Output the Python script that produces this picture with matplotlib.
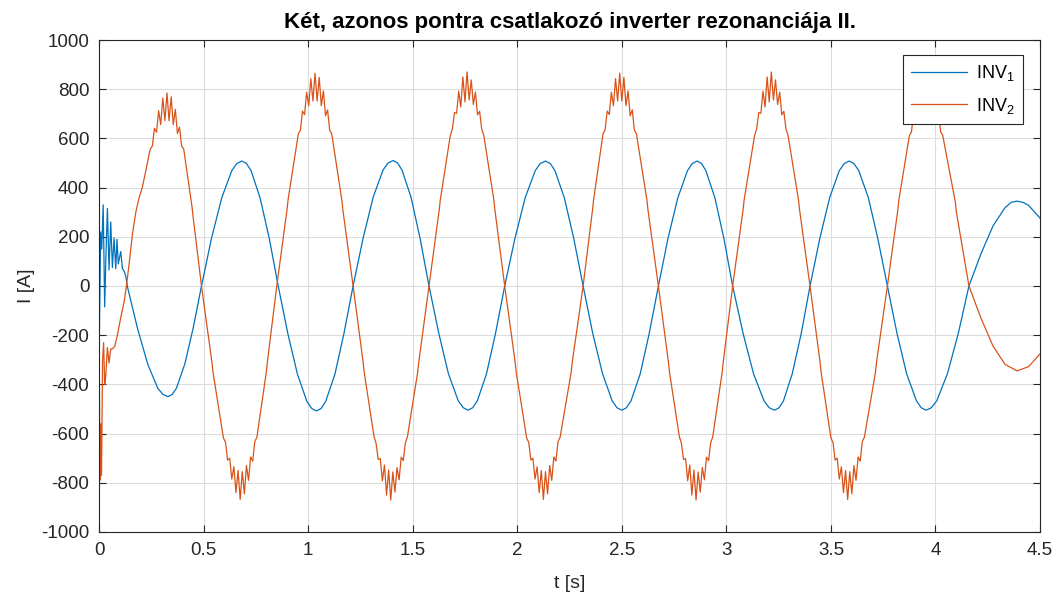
import numpy as np
import matplotlib
matplotlib.use("Agg")
import matplotlib.pyplot as plt

# --- INV1 (blue), time [s] and current [A] ---
t_inv1 = [0.000, 0.008, 0.013, 0.020, 0.027, 0.033, 0.040, 0.048, 0.056, 0.064,
          0.072, 0.080, 0.086, 0.092, 0.104, 0.112, 0.120, 0.128, 0.135,
          0.184, 0.233, 0.281, 0.306, 0.330, 0.350, 0.370, 0.410, 0.450, 0.490,
          0.538, 0.587, 0.635, 0.659, 0.683, 0.705, 0.727, 0.770, 0.814, 0.857,
          0.903, 0.949, 0.994, 1.017, 1.040, 1.062, 1.084, 1.128, 1.171, 1.215,
          1.263, 1.311, 1.358, 1.382, 1.406, 1.428, 1.449, 1.492, 1.535, 1.578,
          1.625, 1.671, 1.718, 1.742, 1.765, 1.787, 1.809, 1.853, 1.896, 1.940,
          1.989, 2.038, 2.086, 2.110, 2.135, 2.158, 2.180, 2.225, 2.270, 2.315,
          2.361, 2.408, 2.454, 2.477, 2.500, 2.522, 2.544, 2.588, 2.631, 2.675,
          2.721, 2.768, 2.814, 2.837, 2.860, 2.881, 2.902, 2.945, 2.988, 3.030,
          3.080, 3.130, 3.180, 3.205, 3.230, 3.252, 3.273, 3.315, 3.358, 3.400,
          3.447, 3.494, 3.540, 3.564, 3.587, 3.610, 3.633, 3.679, 3.724, 3.770,
          3.816, 3.862, 3.909, 3.932, 3.955, 3.980, 4.006, 4.057, 4.109, 4.160,
          4.218, 4.275, 4.333, 4.362, 4.390, 4.418, 4.445, 4.500]
i_inv1 = [-300, 220, 150, 330, -85, 120, 315, 65, 260, 75,
          195, 70, 190, 90, 140, 70, 60, 40, 0,
          -172, -318, -416, -441, -450, -441, -416, -318, -172, 0,
          194, 359, 469, 498, 508, 498, 469, 359, 194, 0,
          -194, -359, -469, -498, -508, -498, -469, -359, -194, 0,
          195, 361, 471, 500, 510, 500, 471, 361, 195, 0,
          -193, -357, -467, -495, -505, -495, -467, -357, -193, 0,
          194, 359, 469, 498, 508, 498, 469, 359, 194, 0,
          -193, -357, -467, -495, -505, -495, -467, -357, -193, 0,
          194, 359, 469, 498, 508, 498, 469, 359, 194, 0,
          -193, -357, -467, -495, -505, -495, -467, -357, -193, 0,
          194, 359, 469, 498, 508, 498, 469, 359, 194, 0,
          -193, -357, -467, -495, -505, -495, -467, -357, -193, 0,
          132, 244, 319, 340, 345, 340, 328, 276]

# --- INV2 (orange), with the ripple around the extremes ---
t_inv2 = [0.000, 0.004, 0.008, 0.012, 0.017, 0.022, 0.027, 0.032, 0.040, 0.048,
          0.056, 0.064, 0.075, 0.088, 0.104, 0.120, 0.131, 0.144, 0.160, 0.176,
          0.192, 0.207,
          0.245, 0.255, 0.265, 0.275, 0.285, 0.295, 0.305, 0.315, 0.325,
          0.335, 0.345, 0.355, 0.365, 0.375, 0.385, 0.395, 0.405,
          0.445, 0.450, 0.490, 0.540, 0.545,
          0.595, 0.605, 0.615, 0.625, 0.635, 0.645, 0.655, 0.665, 0.675,
          0.685, 0.695, 0.705, 0.715, 0.725, 0.735, 0.745, 0.755,
          0.800, 0.805, 0.850, 0.899, 0.904,
          0.953, 0.963, 0.973, 0.983, 0.993, 1.003, 1.013, 1.023, 1.033,
          1.043, 1.053, 1.063, 1.073, 1.083, 1.093, 1.103, 1.113,
          1.161, 1.166, 1.215, 1.263, 1.268,
          1.315, 1.325, 1.335, 1.345, 1.355, 1.365, 1.375, 1.385, 1.395,
          1.405, 1.415, 1.425, 1.435, 1.445, 1.455, 1.465, 1.475,
          1.524, 1.529, 1.578, 1.627, 1.632,
          1.680, 1.690, 1.700, 1.710, 1.720, 1.730, 1.740, 1.750, 1.760,
          1.770, 1.780, 1.790, 1.800, 1.810, 1.820, 1.830, 1.840,
          1.888, 1.893, 1.940, 1.990, 1.995,
          2.045, 2.055, 2.065, 2.075, 2.085, 2.095, 2.105, 2.115, 2.125,
          2.135, 2.145, 2.155, 2.165, 2.175, 2.185, 2.195, 2.205,
          2.258, 2.263, 2.315, 2.360, 2.365,
          2.410, 2.420, 2.430, 2.440, 2.450, 2.460, 2.470, 2.480, 2.490,
          2.500, 2.510, 2.520, 2.530, 2.540, 2.550, 2.560, 2.570,
          2.620, 2.625, 2.675, 2.723, 2.728,
          2.775, 2.785, 2.795, 2.805, 2.815, 2.825, 2.835, 2.845, 2.855,
          2.865, 2.875, 2.885, 2.895, 2.905, 2.915, 2.925, 2.935,
          2.980, 2.985, 3.030, 3.080, 3.085,
          3.135, 3.145, 3.155, 3.165, 3.175, 3.185, 3.195, 3.205, 3.215,
          3.225, 3.235, 3.245, 3.255, 3.265, 3.275, 3.285, 3.295,
          3.345, 3.350, 3.400, 3.448, 3.453,
          3.500, 3.510, 3.520, 3.530, 3.540, 3.550, 3.560, 3.570, 3.580,
          3.590, 3.600, 3.610, 3.620, 3.630, 3.640, 3.650, 3.660,
          3.713, 3.718, 3.770, 3.820, 3.825,
          3.875, 3.885, 3.895, 3.905, 3.915, 3.925, 3.935, 3.945, 3.955,
          3.965, 3.975, 3.985, 3.995, 4.005, 4.015, 4.025, 4.035,
          4.095, 4.100, 4.160,
          4.218, 4.275, 4.333, 4.390, 4.445, 4.500]
i_inv2 = [-100, -790, -560, -770, -300, -230, -400, -370, -250, -313,
          -256, -256, -245, -200, -128, -65, 0, 90, 212, 300,
          360, 400,
          557, 569, 641, 625, 713, 656, 764, 672, 785,
          672, 769, 656, 718, 620, 646, 569, 557,
          320, 280, 0, -310, -350,
          -618, -636, -708, -700, -785, -735, -840, -750, -868,
          -755, -845, -730, -790, -695, -712, -632, -615,
          -350, -310, 0, 310, 350,
          618, 634, 711, 697, 788, 733, 843, 752, 865,
          752, 848, 733, 793, 692, 716, 634, 618,
          350, 310, 0, -310, -350,
          -612, -640, -705, -702, -792, -728, -850, -748, -870,
          -756, -838, -738, -788, -696, -710, -638, -612,
          -350, -310, 0, 310, 350,
          612, 640, 705, 702, 792, 728, 850, 748, 870,
          756, 838, 738, 788, 696, 710, 638, 612,
          350, 310, 0, -310, -350,
          -618, -636, -708, -700, -785, -735, -840, -750, -868,
          -755, -845, -730, -790, -695, -712, -632, -615,
          -350, -310, 0, 310, 350,
          618, 634, 711, 697, 788, 733, 843, 752, 865,
          752, 848, 733, 793, 692, 716, 634, 618,
          350, 310, 0, -310, -350,
          -612, -640, -705, -702, -792, -728, -850, -748, -870,
          -756, -838, -738, -788, -696, -710, -638, -612,
          -350, -310, 0, 310, 350,
          612, 640, 705, 702, 792, 728, 850, 748, 870,
          756, 838, 738, 788, 696, 710, 638, 612,
          350, 310, 0, -310, -350,
          -618, -636, -708, -700, -785, -735, -840, -750, -868,
          -755, -845, -730, -790, -695, -712, -632, -615,
          -350, -310, 0, 310, 350,
          611, 626, 702, 688, 779, 723, 833, 742, 855,
          742, 838, 723, 784, 683, 707, 626, 611,
          340, 300, 0,
          -132, -244, -319, -345, -328, -276]

x_ticks = [0, 0.5, 1, 1.5, 2, 2.5, 3, 3.5, 4, 4.5]
x_tick_labels = ["0", "0.5", "1", "1.5", "2", "2.5", "3", "3.5", "4", "4.5"]
y_ticks = [-1000, -800, -600, -400, -200, 0, 200, 400, 600, 800, 1000]

plt.rcParams['font.family'] = ['Liberation Sans', 'DejaVu Sans']
plt.rcParams['mathtext.fontset'] = 'custom'
plt.rcParams['mathtext.rm'] = 'Liberation Sans'
plt.rcParams['mathtext.default'] = 'regular'
plt.rcParams['axes.unicode_minus'] = False

fig = plt.figure(figsize=(10.59, 5.99), dpi=100)
ax = fig.add_axes([0.0935, 0.1119, 0.8886, 0.8213])

ax.plot(t_inv1, i_inv1, color='#0072BD', linewidth=0.9, label='INV$_1$')
ax.plot(t_inv2, i_inv2, color='#D95319', linewidth=0.9, label='INV$_2$')

ax.set_xlim(0, 4.5)
ax.set_ylim(-1000, 1000)
ax.set_xticks(x_ticks)
ax.set_xticklabels(x_tick_labels)
ax.set_yticks(y_ticks)
ax.grid(True, color='#dcdcdc', linewidth=0.8)
ax.set_axisbelow(True)
ax.tick_params(direction='in', top=True, right=True, length=5, width=0.8,
               labelsize=13.5, colors='#262626', pad=7)
for sp in ax.spines.values():
    sp.set_color('#262626')
    sp.set_linewidth(0.8)

ax.set_title("Két, azonos pontra csatlakozó inverter rezonanciája II.",
             fontsize=16, fontweight='bold', pad=9)
ax.set_xlabel("t [s]", fontsize=14, color='#262626', labelpad=12)
ax.set_ylabel("I [A]", fontsize=14, color='#262626', labelpad=4)

leg = ax.legend(loc='upper right', bbox_to_anchor=(0.982, 0.9695), borderaxespad=0,
                fontsize=13, frameon=True, fancybox=False, framealpha=1,
                handlelength=3.1, handletextpad=0.5, borderpad=0.45,
                labelspacing=0.7)
leg.get_frame().set_edgecolor('#262626')
leg.get_frame().set_linewidth(0.8)

fig.savefig("out.png", dpi=100)
